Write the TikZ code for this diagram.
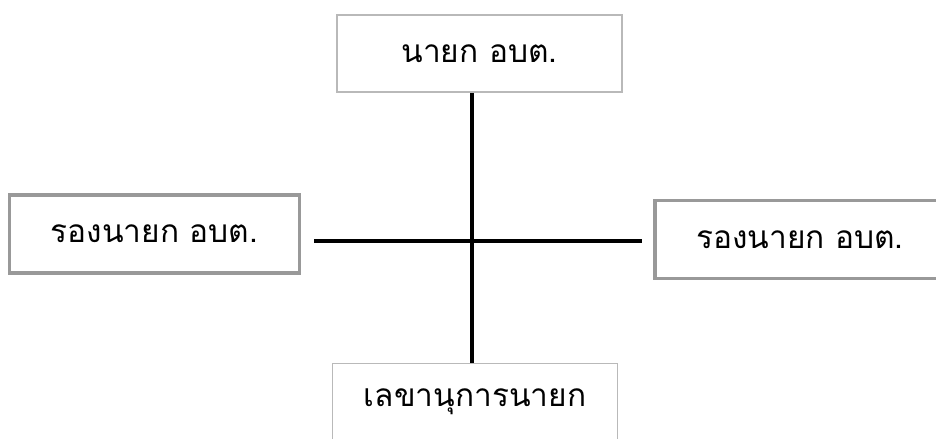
\documentclass[tikz,border=0pt]{standalone}
\usepackage{fontspec}
\newfontfamily\thaifont[Script=Thai]{Loma}
\usepackage{tikz}
\usetikzlibrary{calc}
\tikzset{
  post/.style={draw=gray!55, line width=1.1pt, fill=white, align=center, inner sep=0pt,
    minimum width=5.7cm, minimum height=1.54cm, font=\thaifont\fontsize{18}{21}\selectfont},
  deputy/.style={post, draw=gray!80, line width=2pt, minimum width=5.8cm, minimum height=1.56cm},
  line/.style={line width=2.3pt, black}
}
\begin{document}
\begin{tikzpicture}[x=0.02cm, y=-0.02cm]
  \useasboundingbox (0,0) rectangle (936,439);
  \node[post] (chief) at (479.5,53.5) {นายก อบต.};
  \node[deputy] (depl) at (154.5,234) {รองนายก อบต.};
  \node[deputy] (depr) at (800,239.5) {รองนายก อบต.};
  \node[post] (sec) at (475,402) {เลขานุการนายก};
  \coordinate (hub) at (472,241);
  \coordinate (hl) at ($(depl.east |- hub)+(13,0)$);
  \coordinate (hr) at ($(depr.west |- hub)+(-11,0)$);
  \draw[line] (hub |- chief.south) -- (hub |- sec.north);
  \draw[line] (hl) -- (hr);
\end{tikzpicture}
\end{document}
